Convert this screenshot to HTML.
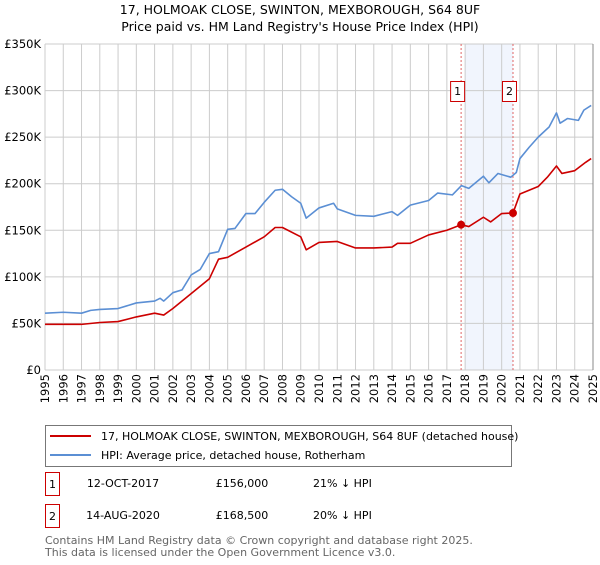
<!DOCTYPE html>
<html><head><meta charset="utf-8"><style>
body{margin:0;background:#fff;font-family:"Liberation Sans","DejaVu Sans",sans-serif;}
svg text{font-family:"DejaVu Sans","Liberation Sans",sans-serif;}
</style></head><body>
<svg width="600" height="560" viewBox="0 0 600 560">
<text x="300" y="14" text-anchor="middle" font-size="12.5" fill="#000">17, HOLMOAK CLOSE, SWINTON, MEXBOROUGH, S64 8UF</text>
<text x="300" y="31" text-anchor="middle" font-size="12.5" fill="#000">Price paid vs. HM Land Registry's House Price Index (HPI)</text>
<g id="plot"></g>
<g>
<rect x="45.5" y="425.5" width="466" height="41" fill="#fff" stroke="#777"/>
<line x1="50" y1="436" x2="91" y2="436" stroke="#cc0000" stroke-width="2"/>
<text x="101" y="440" font-size="11">17, HOLMOAK CLOSE, SWINTON, MEXBOROUGH, S64 8UF (detached house)</text>
<line x1="50" y1="455" x2="91" y2="455" stroke="#5b8fd4" stroke-width="2"/>
<text x="101" y="459" font-size="11">HPI: Average price, detached house, Rotherham</text>
</g>
<g font-size="11">
<rect x="45.5" y="472.5" width="14" height="23" fill="#fff" stroke="#cc0000"/>
<text x="52.5" y="488" text-anchor="middle">1</text>
<text x="123" y="487" text-anchor="middle">12-OCT-2017</text>
<text x="242" y="487" text-anchor="middle">£156,000</text>
<text x="313" y="487">21% ↓ HPI</text>
<rect x="45.5" y="504.5" width="14" height="23" fill="#fff" stroke="#cc0000"/>
<text x="52.5" y="520" text-anchor="middle">2</text>
<text x="123" y="519" text-anchor="middle">14-AUG-2020</text>
<text x="242" y="519" text-anchor="middle">£168,500</text>
<text x="313" y="519">20% ↓ HPI</text>
</g>
<text x="45" y="544" font-size="11" fill="#666">Contains HM Land Registry data © Crown copyright and database right 2025.</text>
<text x="45" y="556" font-size="11" fill="#666">This data is licensed under the Open Government Licence v3.0.</text>
</svg>
<script>
const yTicks=[0,50,100,150,200,250,300,350];
const yLabels=["£0","£50K","£100K","£150K","£200K","£250K","£300K","£350K"];
const xYears=[1995,1996,1997,1998,1999,2000,2001,2002,2003,2004,2005,2006,2007,2008,2009,2010,2011,2012,2013,2014,2015,2016,2017,2018,2019,2020,2021,2022,2023,2024,2025];
const hpiT=[1995,1996,1997,1997.5,1998,1999,2000,2001,2001.3,2001.5,2002,2002.5,2003,2003.5,2004,2004.5,2005,2005.4,2006,2006.5,2007,2007.6,2008,2008.5,2009,2009.3,2010,2010.8,2011,2012,2013,2014,2014.3,2015,2016,2016.5,2017.3,2017.8,2018.2,2019,2019.3,2019.8,2020.5,2020.8,2021,2021.5,2022,2022.6,2023,2023.2,2023.6,2024.2,2024.5,2024.9];
const hpiV=[61,62,61,64,65,66,72,74,77,74,83,86,102,108,125,127,151,152,168,168,180,193,194,186,179,163,174,179,173,166,165,170,166,177,182,190,188,198,195,208,201,211,207,212,227,239,250,261,276,265,270,268,279,284];
const ppT=[1995,1996,1997,1998,1999,2000,2001,2001.5,2002,2003,2004,2004.5,2005,2006,2007,2007.6,2008,2009,2009.3,2010,2011,2012,2013,2014,2014.3,2015,2016,2017,2017.78,2018.2,2019,2019.4,2020,2020.62,2021,2022,2022.5,2023,2023.3,2024,2024.6,2024.9];
const ppV=[49,49,49,51,52,57,61,59,66,82,98,119,121,132,143,153,153,143,129,137,138,131,131,132,136,136,145,150,156,154,164,159,168,168.5,189,197,207,219,211,214,223,227];
const saleT=[2017.78,2020.62];
const saleV=[156,168.5];
const X0=45,X1=593,Y0=370,Y1=44;
const sx=t=>X0+(t-1995)/30*(X1-X0);
const sy=v=>Y0-v/350*(Y0-Y1);
const NS="http://www.w3.org/2000/svg";
const g=document.getElementById('plot');
function mk(tag,attrs,parent){const e=document.createElementNS(NS,tag);for(const k in attrs)e.setAttribute(k,attrs[k]);(parent||g).appendChild(e);return e;}
const band=mk('rect',{x:sx(2018),y:Y1,width:sx(saleT[1])-sx(2018),height:Y0-Y1,fill:'#eef3fc',opacity:0.8});


yTicks.forEach((v,i)=>{
 const l=mk('line',{x1:X0,x2:X1,y1:sy(v),y2:sy(v),stroke:'#ccc'});
 
 
 const t=mk('text',{x:X0-4,y:sy(v)+4,'text-anchor':'end','font-size':11.5});
 t.textContent=yLabels[i];
 
 
});
xYears.forEach(y=>{
 const l=mk('line',{x1:sx(y),x2:sx(y),y1:Y1,y2:Y0,stroke:'#ccc'});
 
 
 const t=mk('text',{x:0,y:0,'font-size':11.5,transform:`translate(${sx(y)+4},${Y0+4}) rotate(-90)`,'text-anchor':'end'});
 t.textContent=y;
 
 
});
const ax=mk('line',{x1:X1,x2:X1,y1:Y1,y2:Y0,stroke:'#888'});


saleT.forEach((t,i)=>{
 const l=mk('line',{x1:sx(t),x2:sx(t),y1:Y1,y2:Y0,stroke:'#e06666','stroke-dasharray':'2,2'});
 
 
 const r=mk('rect',{x:sx(t)-10.5,y:81.5,width:14,height:20,fill:'#fff',stroke:'#cc0000'});
 
 
 const tx=mk('text',{x:sx(t)-3.5,y:95,'text-anchor':'middle','font-size':11});
 tx.textContent=String(i+1);
 
 
});
function line(T,V,color,name){
 const p=mk('polyline',{points:T.map((t,i)=>sx(t)+','+sy(V[i])).join(' '),fill:'none',stroke:color,'stroke-width':1.6,'stroke-linejoin':'round'});
 
 
}
line(hpiT,hpiV,'#5b8fd4','hpi-line');
line(ppT,ppV,'#cc0000','price-paid-line');
saleT.forEach((t,i)=>{
 const c=mk('circle',{cx:sx(t),cy:sy(saleV[i]),r:4,fill:'#cc0000'});
 
 
});
</script>
</body></html>
